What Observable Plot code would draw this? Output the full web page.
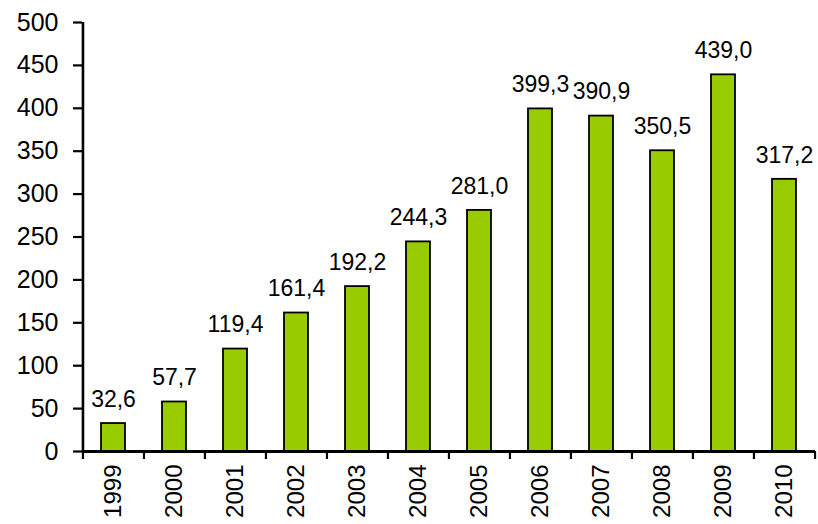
<!DOCTYPE html>
<html>
<head>
<meta charset="utf-8">
<script src="https://cdn.jsdelivr.net/npm/d3@7"></script>
<script src="https://cdn.jsdelivr.net/npm/@observablehq/plot@0.6"></script>
<style>
  html, body { margin: 0; padding: 0; background: #fff; }
  #chart svg { display: block; }
</style>
</head>
<body>
<div id="chart"></div>
<script>
const years = ["1999","2000","2001","2002","2003","2004","2005","2006","2007","2008","2009","2010"];
const values = [32.6, 57.7, 119.4, 161.4, 192.2, 244.3, 281.0, 399.3, 390.9, 350.5, 439.0, 317.2];
const yTicks = [0, 50, 100, 150, 200, 250, 300, 350, 400, 450, 500];

const data = years.map((y, i) => ({year: y, value: values[i]}));

const W = 818, H = 524;
const mL = 82, mR = 3, mT = 22, mB = 73;
const step = (W - mL - mR) / years.length;
const fmt = v => v.toFixed(1).replace(".", ",");

const chart = Plot.plot({
  width: W,
  height: H,
  marginLeft: mL,
  marginRight: mR,
  marginTop: mT,
  marginBottom: mB,
  style: {fontFamily: "'Liberation Sans', Arial, sans-serif", fontSize: "25px", color: "#000", background: "#fff"},
  x: {domain: years, paddingInner: 0.6, paddingOuter: 0.3, label: null},
  y: {domain: [0, 500], label: null},
  marks: [
    Plot.barY(data, {x: "year", y: "value", fill: "#99cc00", stroke: "#000", strokeWidth: 1.8}),
    Plot.text(data, {x: "year", y: "value", text: d => fmt(d.value), dy: -24, fontSize: 23, fill: "#000"}),
    Plot.axisY(yTicks, {tickSize: 9, tickPadding: 15, strokeWidth: 2.2, fontSize: 25, label: null}),
    Plot.ruleX([years[0]], {y1: 0, y2: 500, dx: -step / 2, stroke: "#000", strokeWidth: 2.6}),
    Plot.ruleY([0], {stroke: "#000", strokeWidth: 3}),
    Plot.axisX({tickSize: 8, text: null, dx: -step / 2, strokeWidth: 2.2}),
    Plot.axisX([years[years.length - 1]], {tickSize: 8, text: null, dx: step / 2, strokeWidth: 2.2}),
    Plot.axisX({tickSize: 0, tickPadding: 13, tickRotate: -90, fontSize: 24, label: null})
  ]
});
document.getElementById("chart").appendChild(chart);
</script>
</body>
</html>
